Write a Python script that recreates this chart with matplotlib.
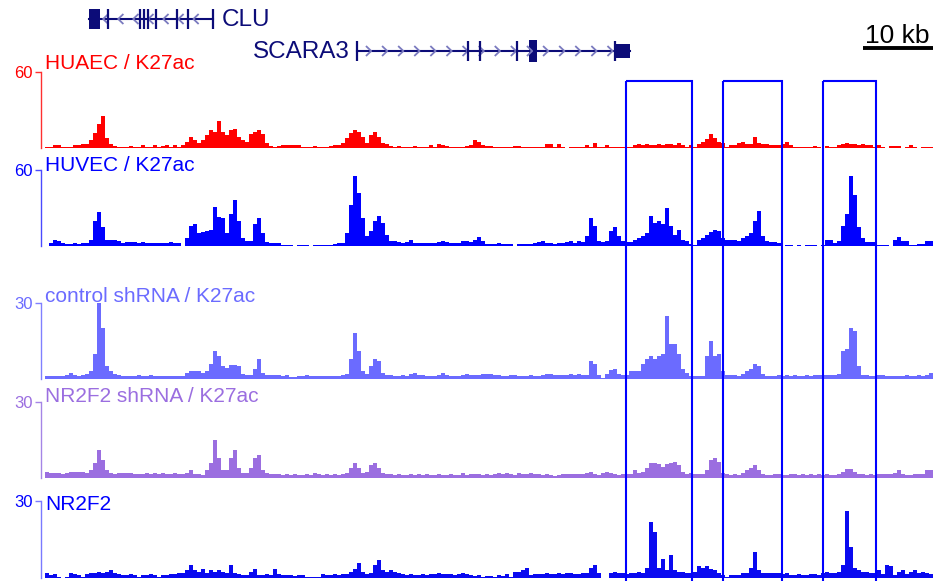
import numpy as np
import matplotlib
matplotlib.use('Agg')
import matplotlib.pyplot as plt
from matplotlib.patches import Rectangle
from matplotlib.collections import LineCollection

plt.rcParams['font.family'] = ['Liberation Sans', 'DejaVu Sans']

# signal bins (each bin = 4/7 kb)
BIN_KB = 4 / 7

huaec = [
    1, 1, 2, 2, 1, 0.5, 1, 2, 2, 3,
    3, 6, 12, 19, 25, 8, 3, 1.5, 1, 1,
    1, 1.5, 1, 1, 2, 1, 1, 2, 1, 1.5,
    2, 1, 2, 0.5, 2, 5, 9, 6, 4, 6,
    10, 14, 13, 21, 13, 10, 14, 15, 9, 6,
    5, 11, 13, 14, 11, 4, 1.5, 1, 1.5, 2,
    2, 2.5, 2, 2, 1, 1, 1, 1.5, 1, 1,
    1, 1.5, 2, 2.5, 4, 8, 12, 14, 13, 9,
    4, 10, 13, 9, 4, 3, 1.5, 1, 1.5, 1,
    1, 1, 1.5, 1, 1, 1, 2, 1, 3, 2,
    1.5, 1, 1, 1, 1, 1.5, 2, 6, 5, 2,
    1.5, 1.5, 1, 1, 1, 1, 1, 1.5, 1.5, 1,
    1, 1, 1, 1, 1, 3, 3, 1, 3, 1,
    0, 1, 1, 1, 1, 2, 1, 4, 1, 1,
    2, 1, 1, 0.5, 0.5, 1, 1, 2, 3, 2,
    3, 2, 2, 3, 2, 3, 3, 2, 4, 2,
    1, 2, 1, 3, 5, 7, 11, 8, 5, 4,
    1, 2, 2, 4, 5, 3, 3, 9, 4, 3,
    3, 2, 2, 2, 3, 5, 2, 1, 1, 1,
    1, 1, 1.5, 1, 0, 1.5, 1, 1, 2, 3,
    4, 3, 3, 2, 3, 2, 2, 1, 2, 1,
    0, 1.5, 1.5, 1.5, 0, 1, 2, 1, 0, 1,
    1, 1,
]

huvec = [
    0, 2, 5, 4, 2, 1.5, 1.5, 2, 1.5, 2,
    2, 5, 20, 27, 15, 5, 5, 5, 4, 2,
    3, 3, 3, 2, 3, 2, 2, 2, 2, 2,
    2, 3, 2, 2, 0, 6, 16, 17, 10, 11,
    12, 13, 31, 23, 22, 10, 25, 36, 20, 6,
    4, 4, 17, 22, 10, 3, 2, 2, 2, 1,
    0.8, 0.8, 0, 1, 0.8, 1, 0, 1, 0.8, 1,
    1, 1, 1.5, 2, 2, 10, 32, 55, 42, 22,
    8, 12, 20, 24, 18, 9, 4, 4, 3, 2,
    3, 5, 2, 2, 2, 2, 2, 2, 3, 4,
    3, 2, 2, 2, 4, 4, 3, 5, 7, 4,
    1.5, 1.5, 1.5, 2, 1.5, 1.5, 1.5, 0, 1.5, 1.5,
    1.5, 1.5, 2, 3, 4, 2, 2, 1.5, 2, 2,
    3, 4, 2, 4, 3, 8, 22, 16, 4, 3,
    4, 12, 15, 8, 4, 3, 3, 5, 6, 8,
    10, 24, 18, 20, 17, 30, 16, 9, 13, 5,
    4, 1.5, 1, 5, 6, 9, 11, 13, 12, 6,
    5, 5, 5, 4, 6, 8, 10, 20, 28, 8,
    4, 3, 3, 2, 0, 0.8, 0.8, 0, 0.8, 0,
    0.8, 0.8, 1, 0, 1, 5, 5, 2, 4, 16,
    25, 55, 40, 15, 6, 3, 3, 3, 1, 1,
    1, 0, 5, 7, 4, 4, 1, 1, 1.5, 1.5,
    4, 4,
]

ctrl_shrna = [
    1.2, 1.2, 1.2, 1, 1.2, 1.5, 2.2, 1.5, 1.2, 1.5,
    2, 3, 10, 30, 20, 5, 3, 2, 1.5, 1.2,
    1.2, 1, 1.2, 1.5, 1.2, 1.2, 1.5, 1.2, 1, 1.2,
    1.2, 1.2, 1.2, 1.2, 1.2, 2.5, 3, 3, 3, 2.5,
    3, 6, 11, 9, 5, 4.5, 5.5, 5.5, 5, 2,
    1.5, 1.5, 4, 8, 2.5, 1.5, 1.5, 1.5, 1.5, 1.2,
    1.5, 0.8, 0.8, 1.2, 1.2, 1.5, 1, 1, 1, 1,
    1, 1, 1, 1.2, 1.5, 2, 8, 18, 11, 3,
    2, 5, 8, 7, 2.5, 1.5, 1.5, 1.2, 1.2, 1.5,
    1.2, 2, 2.2, 1.5, 1.5, 1.2, 1.2, 1.2, 1.5, 2.5,
    1.5, 1.2, 1.2, 1.2, 1.5, 2, 1.5, 1.5, 1.5, 2,
    2, 2, 1.5, 1.5, 1.2, 1.2, 1.5, 1.5, 1.2, 1.2,
    1.2, 1.5, 1.2, 1.2, 1.5, 2, 2, 1.5, 1.5, 1.5,
    1.5, 2, 1.5, 2, 1.5, 1.5, 7, 6, 1.5, 0.5,
    2, 3.5, 4, 2, 1.5, 1.5, 3, 3, 3, 6,
    8, 9, 8, 9, 10, 25, 14, 14, 10, 4,
    2.5, 1, 1.2, 1.2, 1.2, 9, 15, 9, 10, 3,
    1.5, 1.5, 1.5, 1.2, 2, 3, 4, 6, 5, 2,
    1.2, 1.2, 1.2, 1.5, 1.2, 1.5, 1.2, 1.5, 1.2, 1.2,
    1.5, 1.2, 1.5, 1.5, 1.5, 1.5, 1.5, 1.5, 2, 11,
    12, 20, 19, 5, 1.5, 1.5, 1.2, 1.2, 1.5, 1.5,
    1.2, 1, 1, 1.2, 1.2, 1.5, 1.2, 1.2, 1.5, 1.2,
    1.5, 2.5,
]

nr2f2_shrna = [
    2.5, 2, 2, 2, 1.5, 2, 2.2, 2.2, 2.2, 2.2,
    2, 3, 6, 11, 7, 3, 2, 1.5, 2, 2,
    2, 2, 1.5, 1.5, 1.5, 2, 1.5, 2, 1.5, 2,
    1.5, 1.5, 2, 1.5, 1.5, 2, 3, 1.5, 1.5, 1.2,
    3, 6, 15, 8, 3, 3, 8, 11, 4, 2,
    2, 4, 8, 9, 3, 2, 1.5, 1.5, 1.5, 1.2,
    1.5, 1.2, 1.5, 1.2, 1.2, 1.5, 1.2, 2, 1.5, 1.2,
    1.5, 1.2, 1.5, 1.2, 1.5, 2, 4, 6, 4, 2,
    2.5, 5, 6, 4, 2, 1.5, 1.5, 1.2, 1.5, 1.2,
    1.2, 1.5, 1.2, 1.5, 1.2, 1.5, 1.2, 1.2, 1.5, 1.2,
    1.2, 1.5, 1.2, 1.2, 2, 1.2, 1.5, 1.5, 1.5, 1.2,
    1.5, 1.2, 1.5, 1.8, 1.5, 1.8, 1.5, 1.2, 1.8, 1.5,
    1.5, 1.8, 1.5, 1.5, 1.2, 1.5, 1.2, 0.8, 1.2, 1.5,
    1.5, 1.5, 1.5, 1.5, 1.5, 1.8, 2.5, 1.5, 1, 2,
    2.5, 2, 1.5, 1.2, 1.5, 1.5, 1.5, 3, 2, 2.5,
    4, 6, 6, 5.5, 4.5, 5.5, 6, 6.5, 5, 2.5,
    1.5, 2, 1.5, 1.5, 1.5, 3, 7, 8, 6.5, 2,
    1.5, 1.2, 1.5, 1.2, 2, 3, 4, 5, 3, 1.5,
    1.2, 1.2, 1.5, 1.5, 1.2, 1.2, 1.5, 1.5, 1.2, 1.5,
    1.2, 1.5, 1.2, 1.5, 1.2, 1.5, 1.2, 1.2, 1.5, 2.5,
    3.5, 3.5, 2.5, 1.5, 1.5, 1.2, 1.5, 1.2, 1.5, 1.5,
    1.5, 1.5, 2, 3, 1.5, 1.2, 1.2, 1.5, 1.5, 1.5,
    3, 3,
]

nr2f2 = [
    2, 1, 1.5, 0.5, 0, 0.5, 2, 1.5, 1, 0.5,
    1.5, 2, 2, 2.5, 2, 2.5, 3, 2, 1.5, 1,
    1, 1.5, 1.2, 0.5, 1, 1.2, 1.5, 1.2, 0.5, 1,
    1, 1.5, 1.5, 2, 2, 3, 5, 3, 2.5, 3.5,
    2, 3, 2.5, 3, 2.5, 2, 5, 2, 1.5, 1,
    1, 2.5, 3.5, 1, 1, 1.5, 1, 3.5, 1.5, 1,
    1, 1.2, 0.8, 1.2, 1, 0.5, 0.5, 0.5, 0.5, 1.5,
    1.2, 1.2, 1.5, 1, 1.5, 1.5, 2.5, 3.5, 6, 2.5,
    1.5, 2, 5, 7, 3, 2.5, 3, 2.5, 2, 1.5,
    1, 1.5, 1.2, 1, 1.5, 1.2, 1.5, 1.5, 2, 1.5,
    1.5, 1.5, 1.2, 1.5, 2, 1.5, 1, 0.8, 1, 0.5,
    0.8, 0.8, 0.5, 1, 0.8, 1.5, 0.5, 2.5, 2.5, 3,
    4, 1, 1.5, 1.5, 1.5, 2, 1.5, 1.5, 2, 1.5,
    2, 2, 1.5, 1.5, 2, 2, 4, 5, 2, 0,
    0, 2, 2.5, 2, 2, 1.5, 2, 2, 2.5, 2,
    4, 22, 18, 4, 7.5, 3, 9, 3, 2.5, 2.5,
    2, 2, 2.5, 4.5, 4, 4.5, 3.5, 3, 2, 1,
    0.5, 1, 1, 1, 2, 2, 4, 10, 3, 2,
    2, 2, 2, 2, 1.5, 2, 1, 1, 1.5, 1,
    1, 1.5, 1.5, 1, 2, 2.5, 2, 2, 2.5, 5,
    26, 12, 4, 3, 2.5, 2.5, 2, 2, 3, 1.5,
    5, 4.5, 1, 2.5, 3, 1.5, 2.5, 3, 2, 2.5,
    2, 1.5,
]

track_names = ['HUAEC / K27ac', 'HUVEC / K27ac', 'control shRNA / K27ac',
               'NR2F2 shRNA / K27ac', 'NR2F2']
track_max = [60, 60, 30, 30, 30]
track_values = [huaec, huvec, ctrl_shrna, nr2f2_shrna, nr2f2]

# gene models (kb)
clu_span = (6.3, 24.0)
clu_box = (6.3, 7.9)
clu_exons = [9.0, 13.6, 14.1, 14.7, 15.9, 18.9, 20.4, 24.0]
scara3_span = (44.6, 83.6)
scara3_exons = [44.6, 60.4, 62.1, 67.4, 81.4]
scara3_boxes = [(69.1, 70.3), (81.6, 83.6)]

# highlighted regions (kb)
boxes = [(83.0, 92.4), (96.9, 105.3), (111.1, 118.7)]

# ---- layout (pixel based, figure is 937 x 581)
W, H = 937, 581
fig = plt.figure(figsize=(W / 100, H / 100), dpi=100)
x0_px, x1_px = 41, 935
xlim = ((x0_px - 45) / 7, (x1_px - 45) / 7)

track_px = [(72, 148), (170, 246), (303, 379), (402, 478), (501, 578)]
bar_colors = ['#ff0000', '#0000ff', '#6b6bff', '#9b6ee0', '#0a0af0']
axis_colors = ['#ff3030', '#4a4aff', '#8080ff', '#a585e6', '#7a7aff']
text_colors = ['#ff0000', '#0000ff', '#6b6bff', '#9b6ee0', '#0000ff']
label_base = [69, 171, 302, 402, 510]

xs = np.arange(len(huaec)) * BIN_KB

for i, vals in enumerate(track_values):
    top, base = track_px[i]
    ax = fig.add_axes([x0_px / W, 1 - base / H, (x1_px - x0_px) / W, (base - top) / H])
    ax.bar(xs, vals, width=BIN_KB, align='edge', color=bar_colors[i], linewidth=0)
    ax.set_xlim(*xlim)
    ax.set_ylim(0, track_max[i])
    ax.set_xticks([])
    ax.set_yticks([track_max[i]])
    ax.set_yticklabels([str(track_max[i])])
    ax.tick_params(axis='y', length=4, width=1, pad=2, labelsize=12,
                   color=axis_colors[i], labelcolor=text_colors[i])
    for s in ['top', 'right', 'bottom']:
        ax.spines[s].set_visible(False)
    ax.spines['left'].set_color(axis_colors[i])
    ax.spines['left'].set_linewidth(1)
    ax.patch.set_alpha(0)

# overlay for gene track, labels, boxes, scale bar
ov = fig.add_axes([x0_px / W, 0, (x1_px - x0_px) / W, 1])
ov.set_xlim(*xlim)
ov.set_ylim(H, 0)
ov.axis('off')
ov.patch.set_alpha(0)

navy = '#0c0c78'
chev = '#7a7abf'

for i, name in enumerate(track_names):
    ov.text(0.05, label_base[i], name, color=text_colors[i], fontsize=15, va='baseline')

# CLU (minus strand)
gy = 19
ov.plot(clu_span, [gy, gy], color=navy, lw=1.5)
segs = [[(x + 0.75, gy - 5), (x, gy), (x + 0.75, gy + 5)]
        for x in np.arange(clu_box[1] + 0.4, clu_span[1] - 0.8, 2.15)]
ov.add_collection(LineCollection(segs, colors=chev, linewidths=1.3))
ov.vlines(clu_exons, gy - 10, gy + 10, color=navy, lw=1.6)
ov.add_patch(Rectangle((clu_box[0], gy - 10), clu_box[1] - clu_box[0], 20, color=navy, lw=0))
ov.text(clu_span[1] + 1.2, gy + 1, 'CLU', color=navy, fontsize=17.5, va='center')

# SCARA3 (plus strand)
gy = 51
ov.plot(scara3_span, [gy, gy], color=navy, lw=1.5)
segs = [[(x - 0.75, gy - 5), (x, gy), (x - 0.75, gy + 5)]
        for x in np.arange(scara3_span[0] + 2.0, scara3_span[1] - 2, 2.3)]
ov.add_collection(LineCollection(segs, colors=chev, linewidths=1.3))
ov.vlines(scara3_exons, gy - 10, gy + 10, color=navy, lw=1.6)
ov.add_patch(Rectangle((scara3_boxes[0][0], gy - 11), scara3_boxes[0][1] - scara3_boxes[0][0], 22,
                       color=navy, lw=0))
ov.add_patch(Rectangle((scara3_boxes[1][0], gy - 7), scara3_boxes[1][1] - scara3_boxes[1][0], 14,
                       color=navy, lw=0))
ov.text(scara3_span[0] - 1.0, gy + 1, 'SCARA3', color=navy, fontsize=17.5, va='center', ha='right')

# scale bar
ov.plot([116.8, 126.8], [48, 48], color='black', lw=2.8, solid_capstyle='butt')
ov.text(121.8, 43, '10 kb', fontsize=19, ha='center', va='baseline')

# highlight boxes
for a, b in boxes:
    ov.add_patch(Rectangle((a, 81), b - a, 560, fill=False, edgecolor='#0000ff', lw=1.5))

fig.savefig('out.png', dpi=100)
